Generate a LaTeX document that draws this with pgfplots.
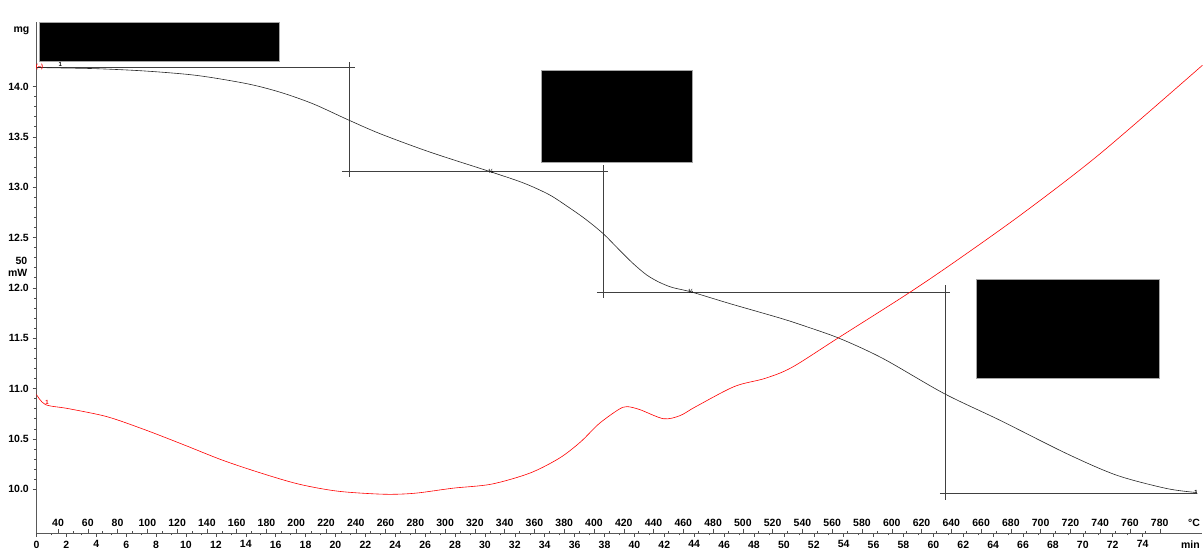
\documentclass[border=0pt]{standalone}
\usepackage{pgfplots}
\pgfplotsset{compat=1.18}
\usepackage{fontspec}
\setmainfont{Liberation Sans}
\begin{document}
\fontsize{10.5}{12}\selectfont
\begin{tikzpicture}[x=1pt,y=1pt]
\useasboundingbox (-36.5,-21) rectangle (1166.5,533);
% temperature scale (upper row of labels on the time axis)
\begin{axis}[
  at={(0,0)}, anchor=south west,
  scale only axis, width=1166pt, height=511pt,
  xmin=25.54, xmax=808.7, ymin=0, ymax=1,
  axis x line=bottom, axis y line=none,
  axis line style={draw=none},
  xtick={40,60,...,780}, minor x tick num=1,
  tick align=inside,
  major tick length=4pt, minor tick length=2pt,
  tick style={black!70, line width=0.5pt},
  /pgf/number format/assume math mode=true,
  xticklabel style={font=\bfseries\fontsize{10.5}{12}\selectfont, anchor=south, yshift=3pt,
    /pgf/number format/.cd, fixed, precision=0, 1000 sep={}},
  clip=false,
]
\node[font=\bfseries\fontsize{10.5}{12}\selectfont, anchor=south, yshift=3pt, inner sep=3.33pt] at (axis cs:803,0) {°C};
\end{axis}
% main axis: time / mass
\begin{axis}[
  at={(0,0)}, anchor=south west,
  scale only axis, width=1166pt, height=511pt,
  xmin=0, xmax=78, ymin=9.565, ymax=14.64,
  axis x line=bottom, axis y line=left,
  axis line style={-, draw=black!65, line width=0.9pt},
  xtick={0,2,...,74}, minor x tick num=1,
  ytick={10,10.5,...,14}, minor y tick num=4,
  tick align=outside,
  major tick length=4pt, minor tick length=2.5pt,
  tick style={black!70, line width=0.5pt},
  /pgf/number format/assume math mode=true,
  ticklabel style={font=\bfseries\fontsize{10.5}{12}\selectfont},
  yticklabel style={/pgf/number format/.cd, fixed, fixed zerofill, precision=1},
  xticklabel style={/pgf/number format/.cd, fixed, precision=0},
  clip=false,
]
% redaction boxes
\filldraw[fill=black, draw=black!35] (axis cs:0.17,14.635) rectangle (axis cs:16.22,14.248);
\filldraw[fill=black, draw=black!35] (axis cs:33.75,14.159) rectangle (axis cs:43.85,13.246);
\filldraw[fill=black, draw=black!35] (axis cs:62.84,12.084) rectangle (axis cs:75.08,11.102);

% step evaluation lines
\addplot[black!75, line width=0.6pt] coordinates {(0.03,14.189) (21.30,14.189)};
\addplot[black!75, line width=0.6pt] coordinates {(20.90,14.238) (20.90,13.097)};
\addplot[black!75, line width=0.6pt] coordinates {(20.43,13.156) (38.23,13.156)};
\addplot[black!75, line width=0.6pt] coordinates {(37.89,13.216) (37.89,11.896)};
\addplot[black!75, line width=0.6pt] coordinates {(37.49,11.955) (61.10,11.955)};
\addplot[black!75, line width=0.6pt] coordinates {(60.77,12.025) (60.77,9.891)};
\addplot[black!75, line width=0.6pt] coordinates {(60.43,9.960) (77.49,9.960)};

% TGA curve (mg)
\addplot[black!85, line width=0.6pt, smooth] coordinates {
(0.03,14.189) (0.7,14.186) (4.05,14.176) (7.39,14.152) (10.74,14.109) (14.08,14.027)
(16.29,13.943) (18.49,13.828) (20.84,13.669) (22.98,13.531) (26.32,13.348) (30.45,13.149)
(32.6,13.040) (34.3,12.925) (35.6,12.800) (36.7,12.685) (37.89,12.541) (39.0,12.375) (39.9,12.243)
(40.8,12.130) (41.6,12.060) (42.5,12.005) (43.83,11.958) (46.39,11.843) (49.73,11.700) (51.3,11.625)
(53.75,11.496) (56.64,11.297) (60.72,10.950) (64.45,10.685) (68.91,10.354) (72.26,10.139)
(75.6,10.007) (77.61,9.967)};

% DSC curve (drawn on the same frame)
\addplot[red, line width=0.6pt, smooth] coordinates {
(0,10.94) (0.6,10.84) (2.14,10.80) (4.72,10.72) (7.26,10.59) (9.87,10.44) (12.41,10.29)
(15.02,10.16) (17.56,10.05) (20.17,9.98) (23.24,9.95) (25.32,9.96) (27.86,10.01) (30.43,10.05)
(33.01,10.16) (35.0,10.31) (36.4,10.47) (37.63,10.65) (38.93,10.79) (39.5,10.82) (40.37,10.79)
(41.94,10.70) (43.04,10.73) (44.11,10.82) (46.69,11.02) (48.73,11.10) (50.54,11.21)
(53.61,11.50) (58.27,11.94) (61.55,12.27) (65.99,12.74) (71.14,13.33) (78.0,14.21)};

% small markers
\node[font=\bfseries\fontsize{6}{7}\selectfont, inner sep=0pt] at (axis cs:30.4,13.16) {½};
\node[font=\bfseries\fontsize{6}{7}\selectfont, inner sep=0pt] at (axis cs:43.78,11.96) {½};
\node[font=\bfseries\fontsize{6}{7}\selectfont, inner sep=0pt, anchor=west] at (axis cs:77.45,9.97) {1};
\node[font=\bfseries\fontsize{6}{7}\selectfont, inner sep=0pt] at (axis cs:1.6,14.22) {1};
\node[font=\bfseries\fontsize{6}{7}\selectfont, red, inner sep=0pt] at (axis cs:0.2,14.19) {(–)};
\node[font=\bfseries\fontsize{6}{7}\selectfont, red, inner sep=0pt] at (axis cs:0.7,10.86) {1};

% axis unit labels
\node[font=\bfseries\fontsize{10.5}{12}\selectfont, anchor=east, inner sep=0pt, xshift=-7pt] at (axis cs:0,14.556) {mg};
\node[font=\bfseries\fontsize{10.5}{12}\selectfont, anchor=east, inner sep=0pt, xshift=-9pt, align=right] at (axis cs:0,12.213) {50\\mW};
\node[font=\bfseries\fontsize{10.5}{12}\selectfont, anchor=north, inner sep=3.33pt, yshift=-4pt] at (axis cs:77.2,9.565) {min};
\end{axis}
\end{tikzpicture}
\end{document}
